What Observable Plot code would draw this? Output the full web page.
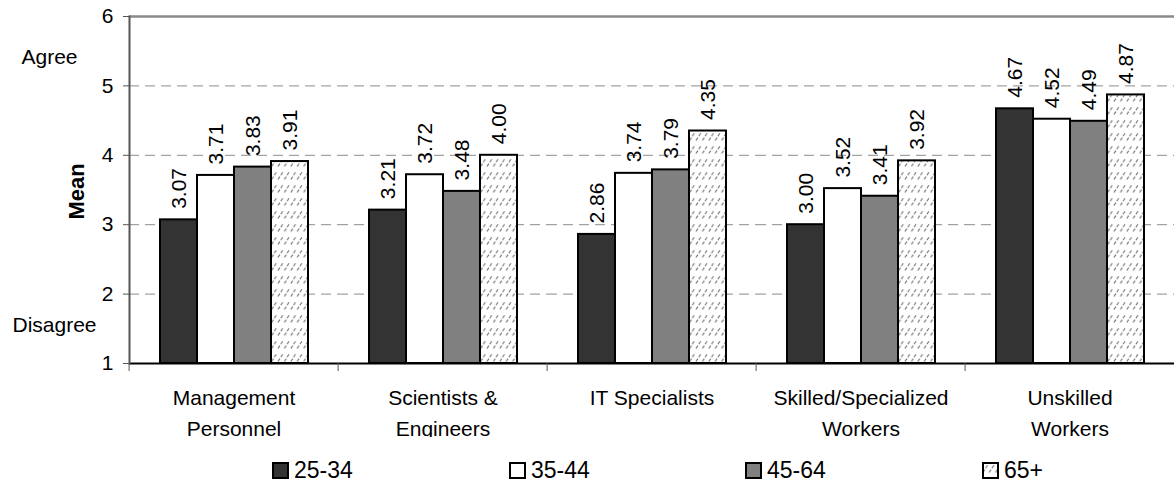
<!DOCTYPE html>
<html><head><meta charset="utf-8">
<script src="https://cdn.jsdelivr.net/npm/d3@7"></script>
<script src="https://cdn.jsdelivr.net/npm/@observablehq/plot@0.6"></script>
<style>
body{margin:0;background:#fff;font-family:"Liberation Sans",Arial,sans-serif;}
#chart svg{overflow:hidden;display:block}
.legend{position:relative;height:47px;width:1176px}
.item{position:absolute;top:22px;display:flex;align-items:center;font-size:23px;line-height:23px;color:#000}
.item svg{margin-right:5px;display:block}
</style></head><body>
<svg width="0" height="0" style="position:absolute">
<defs><pattern id="hatch" patternUnits="userSpaceOnUse" width="6.4" height="13">
<rect width="6.4" height="13" fill="#fff"/><path d="M0.8,10.5 L5.6,3" stroke="#7a7a7a" stroke-width="1.2" stroke-dasharray="3.5,1.6"/></pattern></defs></svg>
<div id="chart"></div>
<div class="legend" id="legend"></div>
<script>
const categories = ["Management\nPersonnel", "Scientists &\nEngineers", "IT Specialists", "Skilled/Specialized\nWorkers", "Unskilled\nWorkers"];
const series = ["25-34", "35-44", "45-64", "65+"];
const values2534 = [3.07, 3.21, 2.86, 3.00, 4.67];
const values3544 = [3.71, 3.72, 3.74, 3.52, 4.52];
const values4564 = [3.83, 3.48, 3.79, 3.41, 4.49];
const values65 = [3.91, 4.00, 4.35, 3.92, 4.87];
const yTicks = [1, 2, 3, 4, 5, 6];
const gridValues = [2, 3, 4, 5];
const fills = ["#333333", "#ffffff", "#808080", "url(#hatch)"];

const allValues = [values2534, values3544, values4564, values65];
const rows = [];
categories.forEach((c, i) => series.forEach((s, j) => rows.push({cat: c, series: s, value: allValues[j][i]})));

const W = 1176, ML = 127, MR = 0;
const bw = (W - ML - MR) / categories.length;
const agreeNote = [{cat: categories[0], t: "Agree", y: 5.41}];
const disagreeNote = [{cat: categories[0], t: "Disagree", y: 1.55}];
const meanLabel = [{cat: categories[0], t: "Mean", y: 3.48}];

const chart = Plot.plot({
  width: W, height: 437,
  marginLeft: ML, marginRight: MR, marginTop: 16, marginBottom: 74,
  style: {fontFamily: "Liberation Sans, Arial, sans-serif", fontSize: "21px", background: "#fff", overflow: "hidden"},
  fx: {domain: categories, padding: 0, label: null},
  x: {domain: series, paddingInner: 0, paddingOuter: 0.8, axis: null},
  y: {domain: [1, 6], label: null},
  color: {domain: series, range: fills},
  marks: [
    Plot.ruleY(gridValues, {stroke: "#8c8c8c", strokeDasharray: "10,6", strokeWidth: 1}),
    Plot.ruleY([6], {stroke: "#8a8a8a", strokeWidth: 2.5}),
    Plot.barY(rows, {fx: "cat", x: "series", y1: 1, y2: "value", fill: "series", stroke: "#000", strokeWidth: 2}),
    Plot.text(rows, {fx: "cat", x: "series", y: "value", text: d => d.value.toFixed(2), rotate: -90, textAnchor: "start", dy: -11, fill: "#000", fontSize: 21}),
    Plot.ruleY([1], {stroke: "#000", strokeWidth: 2}),
    Plot.frame({anchor: "left", facetAnchor: "left", stroke: "#555", strokeWidth: 2}),
    Plot.axisY({ticks: yTicks, tickSize: 6, tickPadding: 10, tickFormat: d => d, label: null, stroke: "#555", fill: "#000", fontSize: 21}),
    Plot.axisFx({anchor: "bottom", tickSize: 0, tickPadding: 19, label: null, fontSize: 21, lineHeight: 1.48, fill: "#000"}),
    Plot.axisFx({anchor: "bottom", tickSize: 8, text: null, dx: -bw / 2, label: null, stroke: "#555"}),
    Plot.text(agreeNote, {fx: "cat", y: "y", text: "t", frameAnchor: "left", dx: -80, textAnchor: "middle", fontSize: 21, fill: "#000"}),
    Plot.text(disagreeNote, {fx: "cat", y: "y", text: "t", frameAnchor: "left", dx: -75, textAnchor: "middle", fontSize: 21, fill: "#000"}),
    Plot.text(meanLabel, {fx: "cat", y: "y", text: "t", frameAnchor: "left", dx: -53, rotate: -90, textAnchor: "middle", fontSize: 22, fontWeight: "bold", fill: "#000"})
  ]
});
document.getElementById("chart").appendChild(chart);

const legendLefts = [272, 509, 745, 982];
const legend = document.getElementById("legend");
series.forEach((s, i) => {
  const item = document.createElement("div");
  item.className = "item";
  item.style.left = legendLefts[i] + "px";
  item.innerHTML = `<svg width="17" height="17"><rect x="1" y="1" width="15" height="15" fill="${fills[i]}" stroke="#000" stroke-width="2"/></svg><span>${s}</span>`;
  legend.appendChild(item);
});
</script>
</body></html>
